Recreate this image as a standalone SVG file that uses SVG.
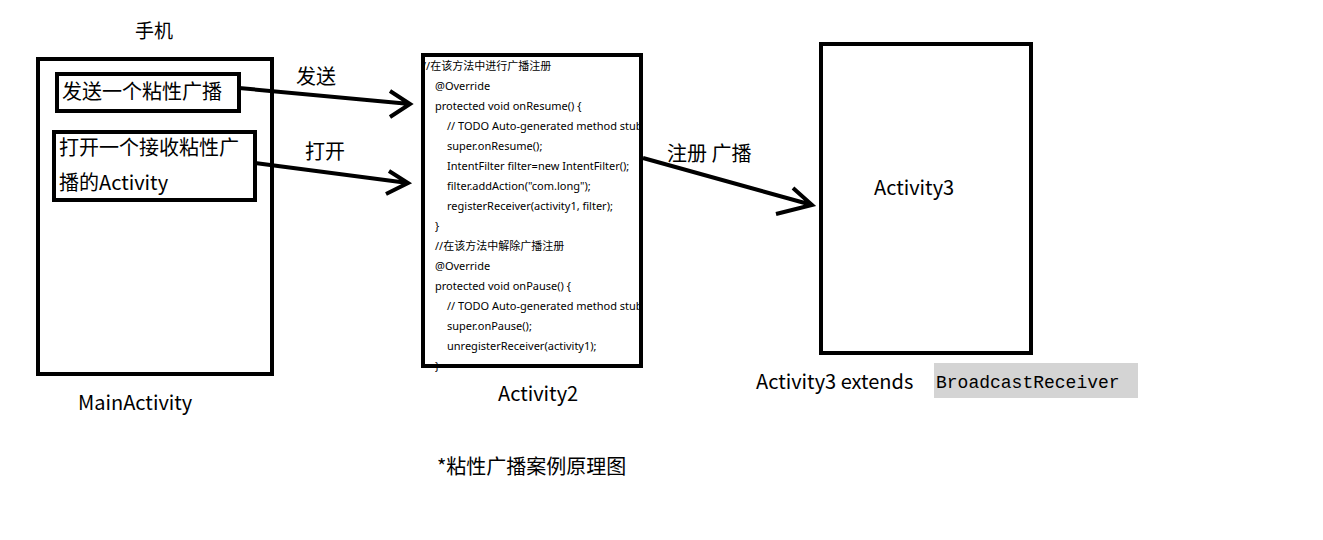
<svg xmlns="http://www.w3.org/2000/svg" width="1323" height="540" viewBox="0 0 1323 540">
<style>
.box{fill:none;stroke:#000;stroke-width:4}
.t{font-family:"Noto Sans CJK SC","Noto Sans",sans-serif;fill:#000}
.c{font-family:"Noto Sans","Noto Sans CJK SC",sans-serif;font-size:11px;fill:#000}
.ln{stroke:#000;stroke-width:4;fill:none}
</style>
<rect width="1323" height="540" fill="#fff"/>
<g id="phone">
<text class="t" x="135" y="38" font-size="19">手机</text>
<rect class="box" x="38" y="59" width="234" height="315"/>
<text class="t" x="78" y="410" font-size="20">MainActivity</text>
</g>
<g id="send">
<rect class="box" x="57" y="74" width="182" height="37"/>
<text class="t" x="62" y="99" font-size="20">发送一个粘性广播</text>
</g>
<g id="open">
<rect class="box" x="54" y="132" width="201" height="68"/>
<text class="t" x="59" y="155" font-size="20">打开一个接收粘性广</text>
<text class="t" x="59" y="190" font-size="20">播的Activity</text>
</g>
<g id="activity2">
<text class="c" x="422" y="70">//在该方法中进行广播注册</text>
<text class="c" x="435" y="90">@Override</text>
<text class="c" x="435" y="110">protected void onResume() {</text>
<text class="c" x="447" y="130">// TODO Auto-generated method stub</text>
<text class="c" x="447" y="150">super.onResume();</text>
<text class="c" x="447" y="170">IntentFilter filter=new IntentFilter();</text>
<text class="c" x="447" y="190">filter.addAction("com.long");</text>
<text class="c" x="447" y="210">registerReceiver(activity1, filter);</text>
<text class="c" x="435" y="230">}</text>
<text class="c" x="435" y="250">//在该方法中解除广播注册</text>
<text class="c" x="435" y="270">@Override</text>
<text class="c" x="435" y="290">protected void onPause() {</text>
<text class="c" x="447" y="310">// TODO Auto-generated method stub</text>
<text class="c" x="447" y="330">super.onPause();</text>
<text class="c" x="447" y="350">unregisterReceiver(activity1);</text>
<text class="c" x="435" y="370">}</text>
<rect class="box" x="423" y="55" width="218" height="311"/>
<text class="t" x="498" y="401" font-size="20">Activity2</text>
</g>
<g id="activity3">
<rect class="box" x="821" y="44" width="210" height="309"/>
<text class="t" x="874" y="195" font-size="20">Activity3</text>
<text class="t" x="756" y="389" font-size="20">Activity3 extends</text>
<rect x="934" y="363" width="204" height="35" fill="#d4d4d4"/>
<text x="936" y="388" font-family="Liberation Mono,monospace" font-size="18" fill="#000">BroadcastReceiver</text>
</g>
<g id="connectors">
<path class="ln" d="M239 88 L410 104 M390 91 L410 104 L390 117"/>
<path class="ln" d="M255 163 L408 183 M389 171 L408 183 L386 194"/>
<path class="ln" d="M643 158 L812 205 M793 188 L812 205 L776 214"/>
<text class="t" x="296" y="84" font-size="20">发送</text>
<text class="t" x="305" y="159" font-size="20">打开</text>
<text class="t" x="667" y="161" font-size="20">注册 广播</text>
</g>
<text class="t" x="437" y="474" font-size="20">*粘性广播案例原理图</text>
</svg>
